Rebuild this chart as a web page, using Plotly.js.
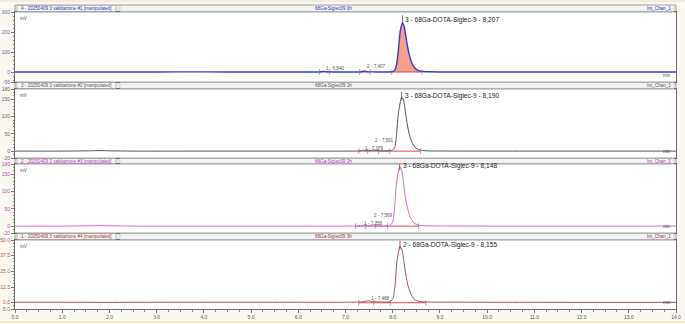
<!DOCTYPE html>
<html>
<head>
<meta charset="utf-8">
<script src="https://cdn.plot.ly/plotly-3.0.1.min.js"></script>
<style>html,body{margin:0;padding:0;background:#fbf8f2;}#chart{width:685px;height:324px;}</style>
</head>
<body>
<div id="chart"></div>
<script>
// ---------- DATA ----------
const PANEL_TITLES = [
  "4 - 20250409 3 validazione #1 [manipulated]",
  "3 - 20250409 3 validazione #2 [manipulated]",
  "2 - 20250409 3 validazione #3 [manipulated]",
  "1 - 20250409 3 validazione #4 [manipulated]"
];
const SAMPLE_NAMES = ["68Ga-Siglec09 0h", "68Ga-Siglec09 1h", "68Ga-Siglec09 2h", "68Ga-Siglec09 3h"];
const CHANNEL = "Int_Chan_1";

const TIME_1 = [0,1,2,3,4,5,6,6.40,6.48,6.54,6.62,6.75,7.0,7.30,7.36,7.407,7.46,7.55,7.8,7.98,8.04,8.08,8.12,8.16,8.207,8.24,8.28,8.32,8.36,8.40,8.45,8.50,8.56,8.64,8.75,9,10,11,12,13,14];
const MV_1   = [0,0.3,0,0.3,0.5,0.2,0,0,1.5,3,1.2,0.3,0,0,2.5,5,2,0.5,0.3,1,8,35,110,205,245,230,175,120,78,48,26,13,6,2.5,1,0.3,0,0,0,0,0];

const TIME_2 = [0,1,1.6,1.8,2.0,2.5,4,6,7.0,7.3,7.379,7.45,7.52,7.591,7.66,7.8,7.98,8.04,8.08,8.12,8.190,8.23,8.27,8.31,8.35,8.40,8.45,8.50,8.57,8.66,8.8,10,12,14];
const MV_2   = [0,0,0.8,1.5,0.8,0,0,0,0,0.5,2.5,1.5,1.5,3,1.5,0.8,2,10,45,110,156,148,112,76,50,28,15,8,3.5,1.5,0.5,0,0,0];

const TIME_3 = [0,1,1.6,1.8,2.0,2.5,4,6,7.0,7.28,7.358,7.43,7.5,7.569,7.64,7.8,7.94,8.00,8.04,8.08,8.148,8.19,8.23,8.27,8.31,8.36,8.41,8.46,8.53,8.62,8.8,10,12,14];
const MV_3   = [0,0,0.8,1.5,0.8,0,0,0,0,0.5,2.5,1.5,1.5,3,1.5,0.8,2,12,55,125,172,162,122,82,54,30,16,8,3.5,1.5,0.5,0,0,0];

const TIME_4 = [0,1,2,3,4,6,7.0,7.35,7.488,7.6,7.8,7.95,8.01,8.05,8.09,8.155,8.20,8.24,8.28,8.32,8.37,8.42,8.47,8.54,8.63,8.8,10,12,14];
const MV_4   = [0.4,0.4,0.3,0.4,0.4,0.4,0.4,0.7,1.5,0.8,0.5,0.9,4,14,33,45,42,32,22,14,8.5,4.5,2.5,1.2,0.7,0.5,0.4,0.3,0.3];

// integration baselines (start/end times) and boundary marks
const BASE_1 = [[6.45,6.66],[7.30,7.52],[7.98,8.62]];
const BASE_2 = [[7.28,8.59]];
const BASE_3 = [[7.21,8.55]];
const BASE_4 = [[7.28,8.70]];
const MARKS_1 = [6.45,6.66,7.30,7.52,7.98,8.62];
const MARKS_2 = [7.28,7.47,7.70,7.93,8.59];
const MARKS_3 = [7.21,7.43,7.63,7.89,8.55];
const MARKS_4 = [7.28,7.60,7.95,8.70];

// fill range of the main integrated peak in panel 1
const FILL_1 = [7.98, 8.64];

// peak labels: [time, mV, text, big?]
const LABELS_1 = [[8.207,262,"3 - 68Ga-DOTA-Siglec-9 - 8,207",1],[6.540,20,"1 - 6,540",0],[7.407,26,"2 - 7,407",0]];
const LABELS_2 = [[8.190,160,"3 - 68Ga-DOTA-Siglec-9 - 8,190",1],[7.379,8,"1 - 7,379",0],[7.591,30,"2 - 7,591",0]];
const LABELS_3 = [[8.148,174,"3 - 68Ga-DOTA-Siglec-9 - 8,148",1],[7.358,8,"1 - 7,358",0],[7.569,30,"2 - 7,569",0]];
const LABELS_4 = [[8.155,46,"2 - 68Ga-DOTA-Siglec-9 - 8,155",1],[7.488,3.5,"1 - 7,488",0]];

// axis ticks
const YTICKS_1 = [-50,0,100,200,300];
const YTICKS_2 = [-20,0,50,100,150,180];
const YTICKS_3 = [-20,0,50,100,150,180];
const YTICKS_4 = [-5,0,12.5,25,37.5,50];
const YTEXT_4 = ["-5.0","0.0","12.5","25.0","37.5","50.0"];
const YRANGE = [[-50,300],[-20,180],[-20,180],[-5,50]];
const YMINOR = [20,10,10,2.5];
const XRANGE = [0,14];

// ---------- STYLE ----------
const W = 685, H = 324;
const LINE_COL = ["#3a3ad2","#555555","#d46ad4","#a4504f"];
const TICK_COL = ["#5a68b0","#666666","#c048c0","#a05a5a"];
const HEAD_COL = ["#2a36b8","#555555","#c030c0","#8e3c3c"];
const FONT = "Liberation Sans, Arial, sans-serif";
const PANELS = [
  {head:[5,12], plot:[12,82]},
  {head:[82,89], plot:[89,158]},
  {head:[158,164], plot:[164,233]},
  {head:[233,240], plot:[240,309]}
];
const X0 = 15, X1 = 676;
const px = p => p / W;
const py = p => (H - p) / H;

const TIMES = [TIME_1, TIME_2, TIME_3, TIME_4];
const VALS = [MV_1, MV_2, MV_3, MV_4];
const BASES = [BASE_1, BASE_2, BASE_3, BASE_4];
const MARKS = [MARKS_1, MARKS_2, MARKS_3, MARKS_4];
const LABELS = [LABELS_1, LABELS_2, LABELS_3, LABELS_4];
const YTICKS = [YTICKS_1, YTICKS_2, YTICKS_3, YTICKS_4];

const traces = [], shapes = [], annotations = [];
const layout = {
  width: W, height: H,
  margin: {l:0, r:0, t:0, b:0},
  paper_bgcolor: "#fbf8f2",
  plot_bgcolor: "#ffffff",
  showlegend: false,
  font: {family: FONT, size: 5, color: "#444"}
};

for (let i = 0; i < 4; i++) {
  const n = i + 1;
  const xa = n === 1 ? "x" : "x" + n;
  const ya = n === 1 ? "y" : "y" + n;
  const P = PANELS[i];

  if (i === 0) {
    const ft = [], fv = [];
    TIME_1.forEach((t, k) => { if (t >= FILL_1[0] && t <= FILL_1[1]) { ft.push(t); fv.push(MV_1[k]); } });
    traces.push({x: ft, y: fv, xaxis: xa, yaxis: ya, mode: "lines", fill: "tozeroy",
      fillcolor: "#f6a08c", line: {width: 0, shape: "spline", smoothing: 0.6}, hoverinfo: "skip"});
  }
  BASES[i].forEach(b => {
    traces.push({x: b, y: [0, 0], xaxis: xa, yaxis: ya, mode: "lines",
      line: {color: "#e04848", width: 1}, hoverinfo: "skip"});
  });
  traces.push({x: TIMES[i], y: VALS[i], xaxis: xa, yaxis: ya, mode: "lines",
    line: {color: LINE_COL[i], width: i === 0 ? 1.4 : 1, shape: "spline", smoothing: 0.6}});
  traces.push({x: MARKS[i], y: MARKS[i].map(() => 0), xaxis: xa, yaxis: ya, mode: "markers",
    marker: {symbol: "line-ns-open", size: 4, color: "#7080c8", line: {width: 0.7, color: "#7080c8"}}, hoverinfo: "skip"});
  const big = LABELS[i].filter(l => l[3]);
  traces.push({x: big.map(l => l[0]), y: big.map(l => l[1]), xaxis: xa, yaxis: ya, mode: "markers",
    marker: {symbol: "line-ns-open", size: 6, color: "#333", line: {width: 0.7, color: "#333"}}, hoverinfo: "skip"});

  const xdomain = [px(X0), px(X1)];
  const ydomain = [py(P.plot[1]), py(P.plot[0])];
  const isBottom = i === 3;
  layout["xaxis" + (n === 1 ? "" : n)] = {
    domain: xdomain, anchor: ya, range: XRANGE, fixedrange: true,
    showline: true, mirror: true, linecolor: "#6a6a6a", linewidth: 1,
    showgrid: false, zeroline: false,
    tickmode: "linear", tick0: 0, dtick: 1, tickformat: ".1f",
    ticks: isBottom ? "outside" : "", ticklen: 3, tickcolor: "#777",
    showticklabels: isBottom,
    tickfont: {size: 5, color: "#555", family: FONT},
    minor: isBottom ? {dtick: 0.25, ticks: "outside", ticklen: 2, tickcolor: "#888"} : undefined
  };
  layout["yaxis" + (n === 1 ? "" : n)] = {
    domain: ydomain, anchor: xa, range: YRANGE[i], fixedrange: true,
    showline: true, mirror: true, linecolor: "#6a6a6a", linewidth: 1,
    showgrid: false, zeroline: false,
    tickmode: "array", tickvals: YTICKS[i],
    ticktext: i === 3 ? YTEXT_4 : YTICKS[i].map(String),
    ticks: "outside", ticklen: 3, tickcolor: "#777",
    tickfont: {size: 5, color: TICK_COL[i], family: FONT},
    minor: {dtick: YMINOR[i], tick0: 0, ticks: "outside", ticklen: 1.5, tickcolor: "#888"}
  };

  shapes.push({type: "rect", xref: "paper", yref: "paper", x0: px(X0), x1: px(X1),
    y0: py(P.head[1]), y1: py(P.head[0]), fillcolor: "#ececec", line: {color: "#8a8a8a", width: 0.8}, layer: "below"});
  shapes.push({type: "rect", xref: "paper", yref: "paper", x0: px(X0 + 2), x1: px(116),
    y0: py(P.head[1] - 0.5), y1: py(P.head[0] + 0.5), fillcolor: "#f6f6f6", line: {color: "#9a9a9a", width: 0.6}});
  shapes.push({type: "rect", xref: "paper", yref: "paper", x0: px(120), x1: px(X1 - 2),
    y0: py(P.head[1] - 0.5), y1: py(P.head[0] + 0.5), fillcolor: "#f3f3f3", line: {color: "#b0b0b0", width: 0.5}});
  const hy = py((P.head[0] + P.head[1]) / 2);
  annotations.push({xref: "paper", yref: "paper", x: px(19), y: hy, xanchor: "left", yanchor: "middle",
    text: PANEL_TITLES[i], showarrow: false, font: {size: 4.6, color: HEAD_COL[i], family: FONT}});
  annotations.push({xref: "paper", yref: "paper", x: px(333), y: hy, xanchor: "center", yanchor: "middle",
    text: SAMPLE_NAMES[i], showarrow: false, font: {size: 4.6, color: HEAD_COL[i], family: FONT}});
  annotations.push({xref: "paper", yref: "paper", x: px(673), y: hy, xanchor: "right", yanchor: "middle",
    text: CHANNEL, showarrow: false, font: {size: 4.6, color: HEAD_COL[i], family: FONT}});
  annotations.push({xref: "paper", yref: "paper", x: px(18), y: py(P.plot[0] + 2), xanchor: "left", yanchor: "top",
    text: "mV", showarrow: false, font: {size: 4.6, color: "#555", family: FONT}});
  annotations.push({xref: "paper", yref: "paper", x: px(673), y: py(P.plot[1] - 2), xanchor: "right", yanchor: "bottom",
    text: "min", showarrow: false, font: {size: 4.6, color: "#555", family: FONT}});

  LABELS[i].forEach(l => {
    annotations.push({xref: xa, yref: ya, x: l[0], y: l[1], xanchor: "left", yanchor: "middle",
      xshift: l[3] ? 2 : 1, text: l[2], showarrow: false, borderpad: 0,
      font: {size: l[3] ? 6.6 : 4.6, color: l[3] ? "#222" : "#555", family: FONT}});
  });
}

shapes.push({type: "line", xref: "paper", yref: "paper", x0: 0, x1: 1, y0: py(322), y1: py(322),
  line: {color: "#f0d8a8", width: 1}});
shapes.push({type: "line", xref: "paper", yref: "paper", x0: 0, x1: 1, y0: py(1), y1: py(1),
  line: {color: "#eadfcc", width: 1}});

layout.shapes = shapes;
layout.annotations = annotations;

Plotly.newPlot("chart", traces, layout, {staticPlot: true, displayModeBar: false});
</script>
</body>
</html>
